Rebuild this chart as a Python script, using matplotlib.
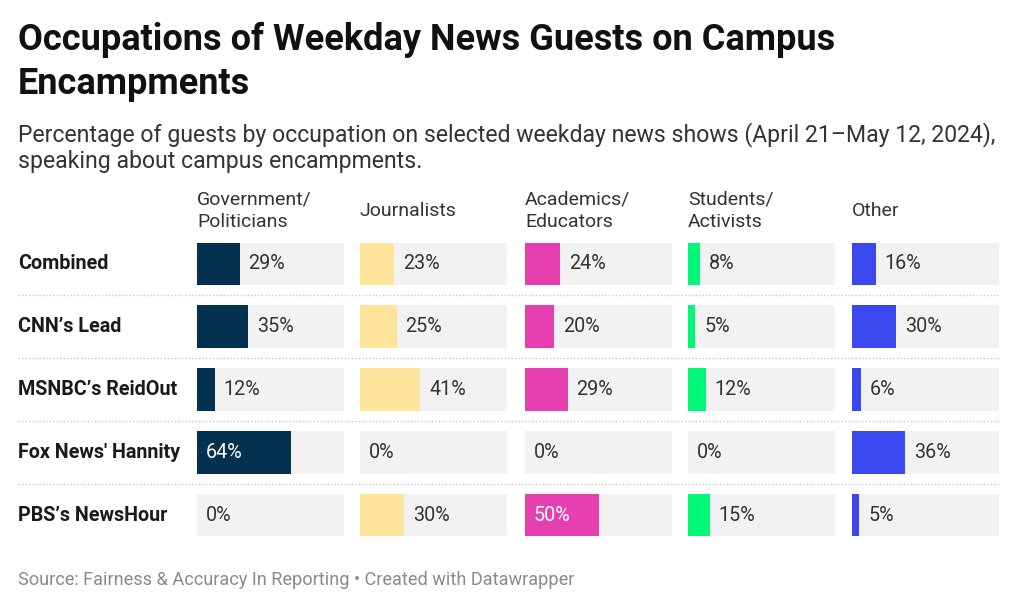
import matplotlib.pyplot as plt

plt.rcParams['font.family'] = ['Roboto', 'DejaVu Sans']

shows = ['Combined', 'CNN’s Lead', 'MSNBC’s ReidOut', "Fox News' Hannity", 'PBS’s NewsHour']
categories = ['Government/\nPoliticians', 'Journalists', 'Academics/\nEducators',
              'Students/\nActivists', 'Other']
gov = [29, 35, 12, 64, 0]
journalists = [23, 25, 41, 0, 30]
academics = [24, 20, 29, 0, 50]
students = [8, 5, 12, 0, 15]
other = [16, 30, 6, 36, 5]

series = [gov, journalists, academics, students, other]
colors = ['#03314f', '#fee59b', '#e640b0', '#00f777', '#3c48ef']
text_inside = ['white', '#333333', 'white', '#333333', 'white']

W, H = 1024, 609
fig = plt.figure(figsize=(W / 100, H / 100), dpi=100)
fig.patch.set_facecolor('white')

def fx(px):
    return px / W

def fy(px):
    return 1 - px / H

n = len(shows)
top_px, bot_px = 232.5, 546.5

# background axes: row labels and dotted separators
ax0 = fig.add_axes([fx(18), fy(bot_px), fx(1000 - 18), (bot_px - top_px) / H])
ax0.set_xlim(0, 1)
ax0.set_ylim(n - 0.5, -0.5)
ax0.axis('off')
for i in range(n - 1):
    ax0.axhline(i + 0.5, color='#c8c8c8', lw=1, ls=(0, (1, 1.5)))
for i, s in enumerate(shows):
    ax0.text(0, i, s, va='center', ha='left', fontsize=14.2, fontweight='bold', color='#1a1a1a')

col_x = [197, 360, 525, 688, 852]
col_w = 147
for j, vals in enumerate(series):
    ax = fig.add_axes([fx(col_x[j]), fy(bot_px), fx(col_w), (bot_px - top_px) / H])
    ax.set_xlim(0, 100)
    ax.set_ylim(n - 0.5, -0.5)
    ax.axis('off')
    ax.barh(range(n), [100] * n, height=0.68, color='#f2f2f2')
    ax.barh(range(n), vals, height=0.68, color=colors[j])
    for i, v in enumerate(vals):
        if v >= 45:
            ax.text(6, i, f'{v}%', va='center', ha='left', fontsize=14.2, color=text_inside[j])
        else:
            ax.text(v + 6, i, f'{v}%', va='center', ha='left', fontsize=14.2, color='#333333')
    fig.text(fx(col_x[j]), fy(211), categories[j], va='center', ha='left',
             fontsize=14, color='#333333', linespacing=1.3)

fig.text(fx(18), fy(22), 'Occupations of Weekday News Guests on Campus\nEncampments',
         va='top', ha='left', fontsize=26, fontweight='bold', color='#111111', linespacing=1.28)
fig.text(fx(18), fy(122), 'Percentage of guests by occupation on selected weekday news shows '
         '(April 21–May 12, 2024),\nspeaking about campus encampments.',
         va='top', ha='left', fontsize=16.6, color='#333333', linespacing=1.17)
fig.text(fx(18), fy(580), 'Source: Fairness & Accuracy In Reporting • Created with Datawrapper',
         va='center', ha='left', fontsize=13.1, color='#8a8a8a')

fig.savefig('out.png', dpi=100)
